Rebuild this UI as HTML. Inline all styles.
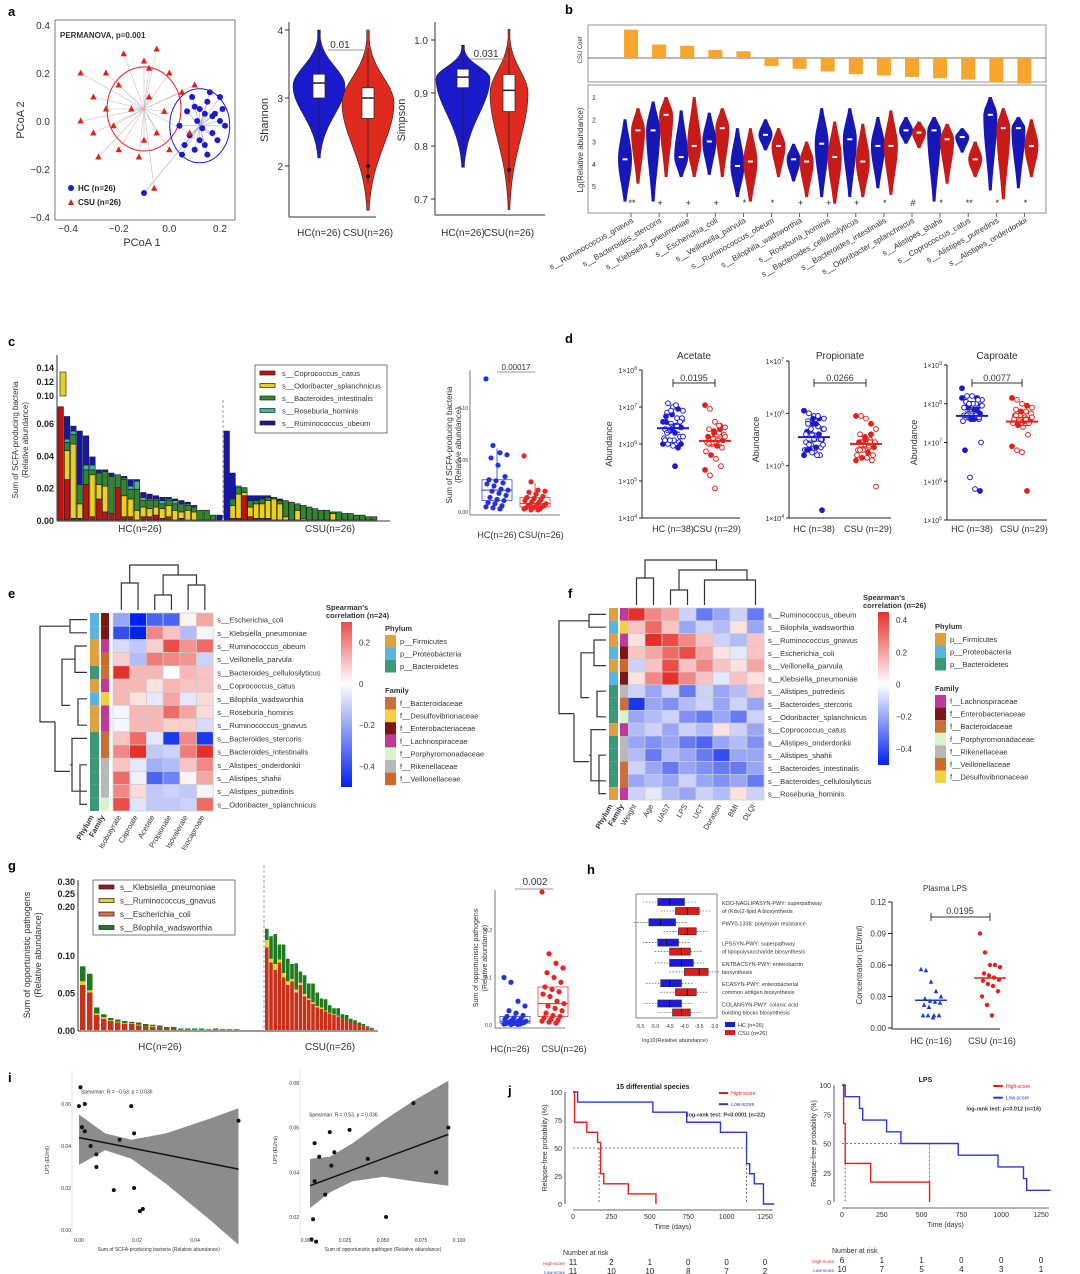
<!DOCTYPE html>
<html><head><meta charset="utf-8"><style>
html,body{margin:0;padding:0;background:#fff}
svg{display:block;font-family:"Liberation Sans",sans-serif}
</style></head><body>
<svg id="fig" width="1080" height="1274" viewBox="0 0 1080 1274" xmlns="http://www.w3.org/2000/svg"></svg>
<script>
// ---------------- DATA ----------------
const pcoaHC=[[0.12,0.05],[0.15,0.08],[0.18,0.03],[0.2,0.0],[0.17,-0.05],[0.14,-0.1],[0.1,-0.12],[0.08,-0.06],[0.11,0.0],[0.16,0.12],[0.2,0.1],[0.22,-0.02],[0.05,-0.14],[0.13,-0.03],[0.07,0.04],[0.19,-0.08],[0.09,0.1],[0.15,-0.14],[-0.1,-0.3],[0.04,-0.02],[0.17,0.02],[0.12,-0.08],[0.21,0.05],[0.1,0.06],[0.06,-0.1],[0.14,0.03]];
const pcoaCSU=[[-0.3,0.1],[-0.35,0.0],[-0.25,0.2],[-0.2,0.15],[-0.1,0.25],[-0.05,0.3],[-0.15,0.05],[-0.3,-0.05],[-0.2,-0.12],[-0.12,-0.15],[0.0,0.2],[0.05,0.12],[-0.08,0.1],[-0.25,0.05],[-0.05,-0.05],[-0.35,0.2],[0.1,0.15],[-0.02,0.04],[-0.18,0.28],[-0.28,-0.15],[0.0,-0.12],[0.08,-0.05],[-0.1,-0.08],[-0.22,-0.02],[-0.08,0.22],[-0.06,-0.28]];
// [median,q1,q3,min,max]
const shannonStats={hc:[3.22,3.0,3.35,2.12,4.0],csu:[3.0,2.7,3.15,1.35,4.0]};
const simpsonStats={hc:[0.93,0.91,0.945,0.76,0.99],csu:[0.905,0.865,0.935,0.68,1.02]};
const shannonOutliers=[2.0,1.85];
const simpsonOutliers=[0.755];
// panel b
const csuCoef=[2.1,1.0,0.9,0.6,0.5,-0.6,-0.8,-1.0,-1.2,-1.3,-1.4,-1.5,-1.6,-1.8,-1.9];
const bHCmed=[3.8,2.5,3.7,3.0,4.1,2.7,3.8,3.1,2.9,3.2,2.5,2.5,2.8,1.8,2.4];
const bCSUmed=[2.5,1.8,3.2,2.4,3.9,3.2,3.9,3.7,3.9,3.2,2.6,2.9,3.8,2.4,3.2];
const bHCrange=[[2.0,5.7],[1.2,5.7],[1.6,4.6],[1.7,4.5],[2.4,5.5],[2.0,3.4],[3.1,4.8],[1.5,5.5],[1.5,5.5],[1.9,5.1],[1.9,3.1],[1.9,5.7],[2.4,3.5],[1.0,5.2],[1.9,5.1]];
const bCSUrange=[[1.5,4.9],[1.0,4.6],[1.0,4.6],[1.5,4.6],[2.4,5.7],[2.4,4.6],[3.0,5.5],[2.1,5.8],[2.2,5.5],[1.6,5.4],[2.1,3.3],[2.2,4.9],[3.0,4.6],[1.5,5.6],[2.0,4.6]];
const bSig=["**","+","+","+","*","*","+","+","+","*","#","*","**","*","*"];
const bSpecies=["s__Ruminococcus_gnavus","s__Bacteroides_stercoris","s__Klebsiella_pneumoniae","s__Escherichia_coli","s__Veillonella_parvula","s__Ruminococcus_obeum","s__Bilophila_wadsworthia","s__Roseburia_hominis","s__Bacteroides_cellulosilyticus","s__Bacteroides_intestinalis","s__Odoribacter_splanchnicus","s__Alistipes_shahii","s__Coprococcus_catus","s__Alistipes_putredinis","s__Alistipes_onderdonkii"];
// panel c (x1000 relative abundance)
const cRed=[70,25,1,1,22,2,13,5,4,20,2,2,0,2,2,3,1,2,0,1,0,0,0,0,0,0, 0,1,1,15,2,1,1,1,0,0,0,0,0,0,0,0,0,0,0,0,0,0,0,0,0,0];
const cYel=[0,18,46,9,0,26,9,16,0,0,13,11,6,6,5,5,6,7,6,4,6,5,0,0,0,0, 0,8,15,2,6,9,9,11,13,10,2,0,6,1,0,0,0,0,4,0,0,0,0,0,0,0];
const cGrn=[0,5,6,12,9,3,7,9,23,8,10,6,13,4,5,4,3,3,4,5,3,3,6,6,3,0, 0,4,4,3,4,2,3,2,1,2,10,11,4,8,8,7,6,6,1,5,4,4,3,3,2,2];
const cTeal=[0,2,2,0,3,3,0,0,0,0,1,2,5,2,1,1,2,1,2,0,1,0,0,0,0,0, 0,0,1,0,0,0,0,0,0,0,0,0,0,0,0,0,0,0,0,0,0,0,0,0,0,0];
const cBlue=[0,14,3,33,18,5,2,1,2,0,1,4,1,3,3,2,2,1,1,2,1,1,0,0,0,3, 55,16,0,0,3,3,2,1,0,1,0,0,0,0,0,0,0,0,0,0,0,0,0,0,0,0];
const cBoxHC=[0.128,0.064,0.057,0.055,0.052,0.045,0.034,0.031,0.03,0.028,0.027,0.025,0.022,0.021,0.02,0.018,0.016,0.014,0.012,0.011,0.009,0.008,0.006,0.005,0.004,0.003];
const cBoxCSU=[0.054,0.029,0.021,0.02,0.019,0.017,0.015,0.014,0.013,0.012,0.011,0.01,0.009,0.008,0.007,0.007,0.006,0.006,0.005,0.005,0.004,0.004,0.003,0.003,0.002,0.002];
// panel d (log10 abundance)
const dAcetHC=[6.6,7.1,7.0,6.95,6.9,6.85,6.8,6.7,6.65,6.6,6.55,6.5,6.45,6.4,6.35,6.3,6.2,6.15,6.1,6.1,6.05,6.0,6.0,5.95,5.9,6.2,6.3,6.4,6.5,6.7,6.75,6.9,7.05,6.0,6.1,6.1,5.4,6.6];
const dAcetCSU=[7.05,6.95,6.6,6.5,6.45,6.4,6.35,6.3,6.25,6.2,6.15,6.1,6.1,6.05,6.0,5.95,5.9,5.8,5.7,5.6,5.4,5.3,5.15,4.8,6.4,6.2,6.0,6.3,6.5];
const dPropHC=[6.05,6.0,5.95,5.9,5.9,5.85,5.8,5.75,5.7,5.65,5.6,5.55,5.5,5.45,5.4,5.35,5.35,5.3,5.3,5.25,5.2,5.2,5.4,5.5,5.6,5.7,5.8,5.9,5.95,5.4,5.3,5.25,5.2,4.15,5.6,5.7,5.8,5.5];
const dPropCSU=[5.95,5.95,5.9,5.8,5.7,5.6,5.55,5.5,5.45,5.45,5.4,5.35,5.35,5.3,5.3,5.25,5.2,5.2,5.15,5.15,5.1,5.1,5.4,5.5,5.6,4.6,5.3,5.5,5.45];
const dCaprHC=[8.4,8.2,8.2,8.15,8.1,8.05,8.0,8.0,7.95,7.9,7.85,7.8,7.75,7.7,7.65,7.6,7.6,7.55,7.9,8.0,8.1,8.15,7.7,7.8,7.85,7.95,8.05,7.6,7.7,7.0,6.8,6.1,5.8,5.75,7.9,8.0,7.85,7.65];
const dCaprCSU=[8.15,8.1,8.0,7.95,7.9,7.85,7.8,7.8,7.75,7.7,7.7,7.65,7.6,7.6,7.55,7.55,7.5,7.5,7.45,7.4,7.2,6.9,6.8,6.75,5.75,7.65,7.7,7.8,7.6];
// panel e heatmap
const eCols=["Isobutyrate","Caproate","Acetate","Propionate","Isovalerate","Isocaproate"];
const eRows=["s__Escherichia_coli","s__Klebsiella_pneumoniae","s__Ruminococcus_obeum","s__Veillonella_parvula","s__Bacteroides_cellulosilyticus","s__Coprococcus_catus","s__Bilophila_wadsworthia","s__Roseburia_hominis","s__Ruminococcus_gnavus","s__Bacteroides_stercoris","s__Bacteroides_intestinalis","s__Alistipes_onderdonkii","s__Alistipes_shahii","s__Alistipes_putredinis","s__Odoribacter_splanchnicus"];
const eVals=[[-0.2,-0.5,-0.35,-0.35,0.02,0.15],[-0.4,-0.5,0.2,0.1,-0.15,-0.02],[-0.08,-0.12,0.08,0.3,0.18,0.25],[0.08,-0.15,0.22,0.2,0.18,-0.1],[0.35,0.12,0.12,0,0.12,0.1],[0.12,0.12,0.05,0.12,0.1,0.1],[0.12,0.05,-0.05,0.15,-0.05,0.06],[-0.02,0.12,0.12,0.25,0.15,0.06],[-0.02,0.12,0.12,0.08,0.08,-0.08],[0.1,0.25,-0.05,-0.45,0.2,-0.45],[0.2,0.35,-0.12,-0.1,0.22,0.35],[0.1,-0.05,-0.18,-0.15,0.1,0.2],[0.25,-0.03,-0.35,-0.28,0.02,0.15],[0.2,0.06,-0.12,-0.1,-0.12,-0.02],[0.3,-0.06,-0.12,-0.12,-0.1,0.25]];
const ePhy=["P","P","F","F","B","F","P","F","F","B","B","B","B","B","B"];
const eFam=["En","En","La","Ve","Ba","La","De","La","La","Ba","Ba","Ri","Ri","Ri","Po"];
// panel f heatmap
const fCols=["Weight","Age","UAS7","LPS","UCT","Duration","BMI","DLQI"];
const fRows=["s__Ruminococcus_obeum","s__Bilophila_wadsworthia","s__Ruminococcus_gnavus","s__Escherichia_coli","s__Veillonella_parvula","s__Klebsiella_pneumoniae","s__Alistipes_putredinis","s__Bacteroides_stercoris","s__Odoribacter_splanchnicus","s__Coprococcus_catus","s__Alistipes_onderdonkii","s__Alistipes_shahii","s__Bacteroides_intestinalis","s__Bacteroides_cellulosilyticus","s__Roseburia_hominis"];
const fVals=[[0.4,0.2,0.15,-0.1,-0.3,-0.2,-0.1,-0.3],[0.1,0.25,0.1,-0.2,-0.1,-0.15,0.05,-0.2],[0.05,0.35,0.3,0.2,0.1,-0.1,-0.15,0.1],[0.1,0.15,0.25,0.3,0.15,0.05,-0.05,0.1],[-0.1,0.1,0.3,0.1,0.2,0.1,0.05,0.15],[0.05,0.2,0.35,0.2,0.1,-0.05,0.1,0.05],[-0.1,-0.2,-0.1,-0.3,-0.1,-0.2,-0.15,0.1],[-0.45,-0.2,-0.25,-0.15,-0.1,-0.2,-0.1,-0.2],[-0.2,-0.15,-0.1,-0.25,-0.3,-0.2,-0.3,-0.1],[-0.15,-0.1,-0.2,-0.1,-0.15,0.05,-0.1,-0.2],[-0.2,-0.25,-0.2,-0.3,-0.35,-0.2,-0.15,-0.25],[-0.15,-0.3,-0.15,-0.2,-0.3,-0.4,-0.2,-0.2],[-0.1,-0.2,-0.3,-0.2,-0.25,-0.3,-0.3,-0.2],[-0.2,-0.15,-0.2,-0.1,-0.2,-0.25,-0.2,-0.3],[-0.1,-0.05,-0.15,-0.2,-0.1,-0.15,0.05,-0.1]];
const fPhy=["F","P","F","P","F","P","B","B","B","F","B","B","B","B","F"];
const fFam=["La","De","La","En","Ve","En","Ri","Ba","Po","La","Ri","Ri","Ba","Ba","La"];
// panel g (x1000)
const gRed=[60,50,20,15,12,10,8,8,6,5,4,3,2,2,1,1,1,1,1,1,0,0,0,0,0,0, 110,90,80,90,70,60,65,50,60,45,40,35,30,28,25,22,20,18,15,12,10,8,6,5,3,2];
const gYel=[5,3,2,2,1,1,1,1,1,0,1,0,0,0,0,0,0,0,0,0,0,0,0,0,0,0, 10,5,8,4,6,5,3,4,3,3,2,2,2,2,1,1,1,1,0,0,0,0,0,0,0,0];
const gGrn=[20,22,8,4,3,3,3,2,3,3,2,3,2,2,1,1,1,1,0,1,1,1,1,0,0,0, 15,30,40,20,38,30,20,35,15,25,20,25,18,12,15,10,8,10,6,8,5,5,4,3,2,1];
const gBoxHC=[0.10,0.09,0.05,0.04,0.03,0.025,0.02,0.018,0.015,0.013,0.012,0.01,0.009,0.008,0.007,0.006,0.005,0.005,0.004,0.004,0.003,0.003,0.002,0.002,0.001,0.001];
const gBoxCSU=[0.28,0.15,0.13,0.12,0.11,0.1,0.09,0.08,0.075,0.07,0.065,0.06,0.05,0.045,0.04,0.035,0.03,0.025,0.02,0.018,0.015,0.012,0.01,0.008,0.006,0.004];
// panel h
const hPath=["KDO-NAGLIPASYN-PWY: superpathway of (Kdo)2-lipid A biosynthesis","PWY0-1338: polymyxin resistance","LPSSYN-PWY: superpathway of lipopolysaccharide biosynthesis","ENTBACSYN-PWY: enterobactin biosynthesis","ECASYN-PWY: enterobacterial common antigen biosynthesis","COLANSYN-PWY: colanic acid building blocks biosynthesis"];
const hHC=[[-4.9,-4.5,-4.0],[-5.2,-4.8,-4.3],[-4.9,-4.6,-4.2],[-4.5,-4.1,-3.7],[-4.8,-4.5,-4.1],[-4.9,-4.5,-4.1]];
const hCSU=[[-4.3,-3.9,-3.5],[-4.2,-3.9,-3.6],[-4.5,-4.1,-3.8],[-4.0,-3.5,-3.2],[-4.3,-3.9,-3.6],[-4.4,-4.1,-3.8]];
const hLpsHC=[0.056,0.055,0.044,0.035,0.03,0.028,0.026,0.025,0.024,0.022,0.02,0.012,0.012,0.012,0.012,0.01];
const hLpsCSU=[0.09,0.072,0.06,0.06,0.058,0.052,0.05,0.048,0.046,0.045,0.042,0.04,0.035,0.03,0.022,0.012];
// panel i
const iX1=[0.0005,0.000,0.002,0.001,0.002,0.004,0.006,0.006,0.014,0.018,0.019,0.012,0.019,0.021,0.022,0.055];
const iY1=[0.068,0.059,0.06,0.049,0.047,0.04,0.036,0.03,0.043,0.059,0.046,0.019,0.02,0.009,0.01,0.052];
const iX2=[0.003,0.006,0.004,0.005,0.005,0.008,0.012,0.016,0.015,0.018,0.028,0.040,0.052,0.070,0.085,0.093];
const iY2=[0.01,0.009,0.019,0.036,0.053,0.047,0.03,0.043,0.058,0.049,0.059,0.046,0.02,0.071,0.04,0.06];
// panel j
const j1HiT=[0,10,90,160,180,200,360,540], j1HiS=[100,73,64,55,27,18,9,0];
const j1LoT=[0,30,520,740,960,1130,1150,1180,1240,1310], j1LoS=[100,91,82,73,64,36,27,18,0,0];
const j2HiT=[0,10,20,180,550], j2HiS=[100,67,33,17,0];
const j2LoT=[0,20,110,130,280,370,730,980,1140,1160,1310], j2LoS=[100,90,80,70,60,50,40,30,20,10,10];

// ---------------- HELPERS ----------------
const S=document.getElementById('fig');const NS='http://www.w3.org/2000/svg';
function mk(tag,at,name,par){const e=document.createElementNS(NS,tag);for(const k in at)e.setAttribute(k,at[k]);


(par||S).appendChild(e);return e;}
function tx(x,y,s,fs,name,o){o=o||{};const e=mk('text',Object.assign({x:x,y:y,'font-size':fs,fill:o.fill||'#333'},o.at||{}),name);if(o.anchor)e.setAttribute('text-anchor',o.anchor);if(o.bold)e.setAttribute('font-weight','bold');if(o.rot!==undefined)e.setAttribute('transform','rotate('+o.rot+' '+x+' '+y+')');e.textContent=s;return e;}
function ln(x1,y1,x2,y2,st,w,name,dash){const e=mk('line',{x1:x1,y1:y1,x2:x2,y2:y2,stroke:st,'stroke-width':w||1},name);if(dash)e.setAttribute('stroke-dasharray',dash);return e;}
function rc(x,y,w,h,f,name,st){const e=mk('rect',{x:x,y:y,width:Math.max(0,w),height:Math.max(0,h),fill:f},name);if(st){e.setAttribute('stroke',st);e.setAttribute('stroke-width',0.7);}return e;}
function ci(x,y,r,f,name,st){const e=mk('circle',{cx:x,cy:y,r:r,fill:f},name);if(st){e.setAttribute('stroke',st);}return e;}
function lin(d0,d1,r0,r1){return v=>r0+(v-d0)/(d1-d0)*(r1-r0);}
const BL='#1a1ad6',RD='#e3201b';
function letter(x,y,s){tx(x,y,s,13,'panel-label-'+s,{bold:true,fill:'#000'});}
function heat(v){
 let r,g,b; if(v>=0){const t=Math.min(1,v/0.35);r=255-t*(255-232);g=255-t*(255-48);b=255-t*(255-42);}else{const t=Math.min(1,-v/0.5);r=255-t*255;g=255-t*(255-34);b=255-t*(255-238);} return 'rgb('+(r|0)+','+(g|0)+','+(b|0)+')';}

// ---------------- PANEL A ----------------
letter(8,16,'a');
{const X=lin(-0.4,0.2,68,220),Y=lin(0.4,-0.4,25,217);
rc(55,20,180,200,'none','pcoa-frame','#444');
[-0.4,-0.2,0,0.2].forEach(v=>{tx(X(v),232,(v<0?'\u2212':'')+Math.abs(v).toFixed(1),10,'pcoa-x-tick',{anchor:'middle'});});
[0.4,0.2,0,-0.2,-0.4].forEach(v=>{tx(50,Y(v)+4,(v<0?'\u2212':'')+Math.abs(v).toFixed(1),10,'pcoa-y-tick',{anchor:'end'});});
tx(142,246,'PCoA 1',11,'pcoa-x-title',{anchor:'middle'});tx(24,120,'PCoA 2',11,'pcoa-y-title',{anchor:'middle',rot:-90});
tx(60,38,'PERMANOVA, p=0.001',8,'permanova-label',{bold:true});
const cH=[0.12,-0.02],cC=[-0.1,0.05];
pcoaHC.forEach(p=>ln(X(p[0]),Y(p[1]),X(cH[0]),Y(cH[1]),'#aab','0.6','hc-spider-line'));
pcoaCSU.forEach(p=>ln(X(p[0]),Y(p[1]),X(cC[0]),Y(cC[1]),'#cbb','0.6','csu-spider-line'));
mk('ellipse',{cx:X(cC[0]),cy:Y(cC[1]),rx:37,ry:42,fill:'none',stroke:RD,'stroke-width':1},'csu-ellipse');
mk('ellipse',{cx:X(cH[0]),cy:Y(cH[1]),rx:30,ry:37,fill:'none',stroke:BL,'stroke-width':1},'hc-ellipse');
pcoaHC.forEach(p=>ci(X(p[0]),Y(p[1]),3,BL,'hc-point'));
pcoaCSU.forEach(p=>{const x=X(p[0]),y=Y(p[1]);mk('polygon',{points:`${x},${y-3.5} ${x-3.2},${y+2.5} ${x+3.2},${y+2.5}`,fill:RD},'csu-point');});
ci(71,188,3,BL,'legend-hc-marker');tx(78,191,'HC (n=26)',8,'legend-hc',{bold:true,fill:'#222'});
mk('polygon',{points:'71,199 68,205 74,205',fill:RD},'legend-csu-marker');tx(78,205,'CSU (n=26)',8,'legend-csu',{bold:true,fill:'#222'});
}
function violin(cx,Y,st,col,w,name){const [med,q1,q3,lo,hi]=st;const n=40;let pts=[],pts2=[];
 const c=(q1+q3)/2;
 for(let i=0;i<=n;i++){const v=lo+(hi-lo)*i/n;const t=(v-c)/((v>c)?(hi-c):(c-lo));const ww=w*Math.max(0.05,Math.exp(-3.2*t*t*(v>c?1.3:1)));pts.push([cx-ww,Y(v)]);pts2.unshift([cx+ww,Y(v)]);}
 mk('polygon',{points:pts.concat(pts2).map(p=>p.join(',')).join(' '),fill:col,stroke:'#222','stroke-width':0.6},name+'-violin');
 ln(cx,Y(lo+(hi-lo)*0.15),cx,Y(hi-(hi-lo)*0.1),'#222',0.8,name+'-whisker');
 rc(cx-6,Y(q3),12,Y(q1)-Y(q3),'#fff',name+'-box','#222');ln(cx-6,Y(med),cx+6,Y(med),'#222',1.5,name+'-median');}
{const Y=lin(3,2,98,166);ln(289,22,289,217,'#333',1,'shannon-y-axis');ln(289,217,376,217,'#333',1,'shannon-x-axis');
[4,3,2].forEach(v=>{ln(285,Y(v),289,Y(v),'#333',1,'shannon-tick');tx(283,Y(v)+4,String(v),10,'shannon-tick-label',{anchor:'end'});});
tx(268,120,'Shannon',11,'shannon-y-title',{anchor:'middle',rot:-90});
violin(319,Y,shannonStats.hc,'#1a1acc',26,'shannon-hc');violin(368,Y,shannonStats.csu,'#e02a1e',26,'shannon-csu');
shannonOutliers.forEach(v=>ci(368,Y(v),2,'#111','shannon-outlier'));
ln(328,50,368,50,'#777',0.8,'shannon-bracket');tx(340,48,'0.01',10,'shannon-pvalue',{anchor:'middle'});
tx(319,236,'HC(n=26)',10,'shannon-x-hc',{anchor:'middle'});tx(368,236,'CSU(n=26)',10,'shannon-x-csu',{anchor:'middle'});}
{const Y=lin(0.9,0.8,93,146);ln(435,22,435,215,'#333',1,'simpson-y-axis');ln(435,215,545,215,'#333',1,'simpson-x-axis');
[1.0,0.9,0.8,0.7].forEach(v=>{ln(431,Y(v),435,Y(v),'#333',1,'simpson-tick');tx(428,Y(v)+4,v.toFixed(1),10,'simpson-tick-label',{anchor:'end'});});
tx(405,120,'Simpson',11,'simpson-y-title',{anchor:'middle',rot:-90});
violin(463,Y,simpsonStats.hc,'#1a1acc',27,'simpson-hc');violin(509,Y,simpsonStats.csu,'#e02a1e',19,'simpson-csu');
simpsonOutliers.forEach(v=>ci(509,Y(v),2,'#111','simpson-outlier'));
ln(470,59,509,59,'#777',0.8,'simpson-bracket');tx(486,57,'0.031',10,'simpson-pvalue',{anchor:'middle'});
tx(463,236,'HC(n=26)',10,'simpson-x-hc',{anchor:'middle'});tx(509,236,'CSU(n=26)',10,'simpson-x-csu',{anchor:'middle'});}

// ---------------- PANEL B ----------------
letter(565,14,'b');
{rc(588,25,458,57,'none','coef-frame','#666');const Yc=lin(0,2,58,31);ln(588,58,1046,58,'#444',0.8,'coef-zero-line');
tx(582,50,'CSU Coef',6,'coef-y-title',{anchor:'middle',rot:-90});
const Xc=i=>631+i*28.1;
csuCoef.forEach((v,i)=>{const y0=Yc(0),y1=Yc(v);rc(Xc(i)-7,Math.min(y0,y1),14,Math.abs(y1-y0),'#f7a52b','coef-bar');});
rc(588,85,458,128,'none','abund-frame','#666');
const Y=lin(1,5,97,186);[1,2,3,4,5].forEach(v=>{tx(594,Y(v)+3,String(v),7,'abund-tick',{anchor:'middle'});});
tx(583,150,'Lg(Relative abundance)',8,'abund-y-title',{anchor:'middle',rot:-90});
function sv(cx,med,r,col,name){const lo=r[0],hi=r[1];const n=16;let L=[],R=[];for(let k=0;k<=n;k++){const v=lo+(hi-lo)*k/n;const t=(v-med)/((v>med)?(hi-med):(med-lo));const w=7*Math.max(0.1,Math.exp(-1.6*t*t));L.push([cx-w,Y(v)]);R.unshift([cx+w,Y(v)]);}
 mk('polygon',{points:L.concat(R).map(p=>p.join(',')).join(' '),fill:col},name);rc(cx-2.5,Y(med)-1,5,2,'#fff',name+'-median');}
bSpecies.forEach((s,i)=>{const cx=Xc(i);sv(cx-6,bHCmed[i],bHCrange[i],'#1717b8','hc-violin-'+i);sv(cx+7,bCSUmed[i],bCSUrange[i],'#c81a16','csu-violin-'+i);
 tx(cx+1,206,bSig[i],9,'sig-mark',{anchor:'middle',fill:'#222'});ln(cx,213,cx,217,'#444',0.8,'species-tick');
 tx(cx+3,222,s,8,'species-label',{anchor:'end',rot:-30});});}

// ---------------- PANEL C ----------------
letter(8,346,'c');
{const Y=v=>520-v*1617;ln(57,355,57,521,'#333',1,'c-y-axis');ln(57,521,390,521,'#333',1,'c-x-axis');
[0,0.02,0.04,0.06].forEach(v=>{tx(54,Y(v/1)+4,v.toFixed(2),9,'c-y-tick',{anchor:'end',bold:true,fill:'#222'});});
[[0.14,367],[0.12,381],[0.10,395]].forEach(a=>tx(54,a[1]+4,a[0].toFixed(2),9,'c-y-tick-break',{anchor:'end',bold:true,fill:'#222'}));
ln(57,362,57,398,'#333',1,'c-y-axis-upper');rc(60,372,6,24,'#e6d21a','c-bar-break','#333');
tx(18,440,'Sum of SCFA-producing bacteria',8,'c-y-title',{anchor:'middle',rot:-90});tx(28,440,'(Relative abundance)',8,'c-y-title-2',{anchor:'middle',rot:-90});
const cols=[['#c01212',cRed],['#ead21c',cYel],['#2c8a2c',cGrn],['#3cb8a0',cTeal],['#1515b0',cBlue]];
for(let i=0;i<52;i++){const x=i<26?58+i*6.35:224+(i-26)*5.9;let acc=0;cols.forEach((c,k)=>{const v=c[1][i]/1000;if(v>0){rc(x,Y(acc+v),5.4,Y(acc)-Y(acc+v),c[0],'c-bar-seg','#222');}acc+=v;});}
ln(223,400,223,520,'#999',1,'c-group-divider','3,2');
tx(140,532,'HC(n=26)',10,'c-x-hc',{anchor:'middle'});tx(330,532,'CSU(n=26)',10,'c-x-csu',{anchor:'middle'});
rc(255,365,132,68,'#fff','c-legend','#444');
const ln5=['s__Coprococcus_catus','s__Odoribacter_splanchnicus','s__Bacteroides_intestinalis','s__Roseburia_hominis','s__Ruminococcus_obeum'];
ln5.forEach((s,k)=>{rc(260,371+k*12.5,15,4,cols[k][0],'c-legend-swatch','#222');tx(282,376+k*12.5,s,7.5,'c-legend-label');});
const Yb=lin(0,0.1,512,408);ln(470,370,470,515,'#555',0.8,'c-box-y-axis');ln(470,515,560,515,'#555',0.8,'c-box-x-axis');
[[0,'0.00'],[0.05,'0.05'],[0.1,'0.10']].forEach(a=>tx(468,Yb(a[0])+2,a[1],5,'c-box-tick',{anchor:'end'}));
tx(452,445,'Sum of SCFA-producing bacteria',8,'c-box-y-title',{anchor:'middle',rot:-90});tx(461,445,'(Relative abundance)',8,'c-box-y-title2',{anchor:'middle',rot:-90});
function bx(arr,cx,col,Yf,name){const s=arr.slice().sort((a,b)=>a-b);const q=p=>s[Math.floor(p*(s.length-1))];
 rc(cx-15,Yf(q(0.75)),30,Yf(q(0.25))-Yf(q(0.75)),'none',name+'-box',col);ln(cx-15,Yf(q(0.5)),cx+15,Yf(q(0.5)),col,1,name+'-median');
 ln(cx,Yf(q(0.75)),cx,Yf(Math.min(s[s.length-1],q(0.75)+1.5*(q(0.75)-q(0.25)))),col,0.8,name+'-whisker');
 arr.forEach((v,k)=>ci(cx+((k*7)%23-11),Yf(v),2.6,col,name+'-point'));}
bx(cBoxHC,497,'#2233dd',Yb,'c-hc');bx(cBoxCSU,535,'#ee2222',Yb,'c-csu');
ln(497,372,535,372,'#777',0.8,'c-box-bracket');tx(516,370,'0.00017',8,'c-box-pvalue',{anchor:'middle'});
tx(497,538,'HC(n=26)',9,'c-box-x-hc',{anchor:'middle'});tx(541,538,'CSU(n=26)',9,'c-box-x-csu',{anchor:'middle'});}

// ---------------- PANEL D ----------------
letter(565,343,'d');
function dot(ax,top,bot,lt,lb,hx,cx,hc,cs,title,p,name){const Y=lin(lt,lb,top,bot);ln(ax,top,ax,bot,'#222',1,name+'-y-axis');ln(ax,bot,cx+25,bot,'#222',1,name+'-x-axis');
 for(let e=lb;e<=lt;e++){ln(ax-3,Y(e),ax,Y(e),'#222',1,name+'-tick');const t=tx(ax-5,Y(e)+3,'1\u00d710',7,name+'-tick-label',{anchor:'end'});const sp=document.createElementNS(NS,'tspan');sp.setAttribute('font-size','5');sp.setAttribute('dy','-3');sp.textContent=String(e);t.appendChild(sp);}
 tx(ax-30,(top+bot)/2,'Abundance',9,name+'-y-title',{anchor:'middle',rot:-90});tx((hx+cx)/2,359,title,10,name+'-title',{anchor:'middle'});
 ln(hx,383,cx,383,'#333',1,name+'-bracket');ln(hx,379,hx,387,'#333',1,name+'-bracket-l');ln(cx,379,cx,387,'#333',1,name+'-bracket-r');tx((hx+cx)/2,381,p,9,name+'-pvalue',{anchor:'middle'});
 [[hc,hx,BL],[cs,cx,RD]].forEach(g=>{const arr=g[0];arr.forEach((v,k)=>{ci(g[1]+((k*5)%21-10),Y(v),2.4,k%3==0?g[2]:'#fff',name+'-point',g[2]);});
  const m=arr.reduce((a,b)=>a+b,0)/arr.length;ln(g[1]-16,Y(m),g[1]+16,Y(m),g[2],2,name+'-mean');ln(g[1]-7,Y(m)-4,g[1]+7,Y(m)-4,g[2],1,name+'-sem');ln(g[1]-7,Y(m)+4,g[1]+7,Y(m)+4,g[2],1,name+'-sem');});
 tx(hx,532,'HC (n=38)',9,name+'-x-hc',{anchor:'middle'});tx(cx+2,532,'CSU (n=29)',9,name+'-x-csu',{anchor:'middle'});}
dot(642,370,518,8,4,673,715,dAcetHC,dAcetCSU,'Acetate','0.0195','acetate');
dot(789,361,518,7,4,814,866,dPropHC,dPropCSU,'Propionate','0.0266','propionate');
dot(947,365,520,9,5,972,1022,dCaprHC,dCaprCSU,'Caproate','0.0077','caproate');

// ---------------- PANEL E/F HEATMAPS ----------------
const phyC={F:'#e0a040',P:'#5ab4e0',B:'#3a9a78'};const famC={Ba:'#c87038',De:'#f5d040',En:'#7a1818',La:'#c0389a',Po:'#d8f5c8',Ri:'#b8b8b8',Ve:'#d06828'};
function hm(x0,y0,cw,rh,vals,rows,cols,phy,fam,px,name){
 vals.forEach((r,i)=>r.forEach((v,j)=>rc(x0+j*cw,y0+i*rh,cw,rh,heat(v),name+'-cell','#ccc')));
 rows.forEach((s,i)=>{rc(px,y0+i*rh,9,rh,phyC[phy[i]],name+'-phylum-cell');rc(px+11,y0+i*rh,8,rh,famC[fam[i]],name+'-family-cell');tx(x0+cols.length*cw+4,y0+i*rh+rh/2+3,s,7.5,name+'-row-label');});
 cols.forEach((c,j)=>tx(x0+j*cw+cw/2,y0+rows.length*rh+6,c,7.5,name+'-col-label',{anchor:'end',rot:-60}));
 tx(px+4,y0+rows.length*rh+6,'Phylum',7.5,name+'-phylum-label',{anchor:'end',rot:-60,bold:true});tx(px+15,y0+rows.length*rh+6,'Family',7.5,name+'-family-label',{anchor:'end',rot:-60,bold:true});
 const H=rows.length*rh;mk('path',{d:`M${px-3},${y0+rh*0.5}H${px-20}V${y0+rh*1.5}H${px-3} M${px-20},${y0+rh}H${px-50}V${y0+H*0.55}H${px-35} M${px-3},${y0+rh*2.5}H${px-15}V${y0+rh*4.5}H${px-3} M${px-15},${y0+rh*3.5}H${px-28}V${y0+rh*7}H${px-20} M${px-3},${y0+rh*6.5}H${px-12}V${y0+rh*8.5}H${px-3} M${px-35},${y0+H*0.55}V${y0+rh*12}H${px-20} M${px-3},${y0+rh*9.5}H${px-18}V${y0+rh*13.5}H${px-3} M${px-18},${y0+rh*11.5}H${px-20} M${px-3},${y0+rh*11.5}H${px-10}V${y0+rh*14.5}H${px-3}`,fill:'none',stroke:'#333','stroke-width':1.2},name+'-row-dendrogram');
 const W=cols.length*cw;mk('path',{d:`M${x0+cw*0.5},${y0-3}V${y0-30}H${x0+cw*1.5}V${y0-3} M${x0+cw},${y0-30}V${y0-48}H${x0+W*0.65}V${y0-38} M${x0+cw*2.5},${y0-3}V${y0-18}H${x0+cw*3.5}V${y0-3} M${x0+cw*3},${y0-18}V${y0-38}H${x0+W-cw}V${y0-28} M${x0+cw*4.5},${y0-3}V${y0-28}H${x0+W-cw*0.5}V${y0-3}`,fill:'none',stroke:'#333','stroke-width':1.2},name+'-col-dendrogram');}
letter(8,598,'e');hm(113,613,16.7,13.2,eVals,eRows,eCols,ePhy,eFam,90,'e-heatmap');
letter(568,598,'f');hm(628,608,17,12.8,fVals,fRows,fCols,fPhy,fFam,609,'f-heatmap');
function cbar(x,y0,y1,title,ticks,lo,hi,name){const g=mk('linearGradient',{id:name+'g',x1:0,y1:0,x2:0,y2:1},name+'-gradient');
 [[0,heat(hi)],[hi/(hi-lo),heat(0)],[1,heat(lo)]].forEach(s=>mk('stop',{offset:s[0],'stop-color':s[1]},name+'-stop',g));
 rc(x,y0,11,y1-y0,'url(#'+name+'g)',name);tx(x-15,y0-12,'Spearman\'s',7.5,name+'-title',{bold:true});tx(x-15,y0-4,title,7.5,name+'-title2',{bold:true});
 ticks.forEach(t=>tx(x+18,y0+(hi-t)/(hi-lo)*(y1-y0)+3,t==0?'0':(t<0?'\u2212':'')+Math.abs(t),8,name+'-tick'));}
cbar(341,622,787,'correlation (n=24)',[0.2,0,-0.2,-0.4],-0.5,0.3,'e-colorbar');
cbar(878,612,765,'correlation (n=26)',[0.4,0.2,0,-0.2,-0.4],-0.5,0.45,'f-colorbar');
function leg(x,y,name,fams){tx(x,y,'Phylum',7.5,name+'-phylum-title',{bold:true});[['F','p__Firmicutes'],['P','p__Proteobacteria'],['B','p__Bacteroidetes']].forEach((a,k)=>{rc(x,y+4+k*12.5,11,12.5,phyC[a[0]],name+'-phylum-swatch');tx(x+15,y+13+k*12.5,a[1],7.5,name+'-phylum-label');});
 const fy=y+62;tx(x,fy,'Family',7.5,name+'-family-title',{bold:true});fams.forEach((a,k)=>{rc(x,fy+4+k*12.6,11,12.6,famC[a[0]],name+'-family-swatch');tx(x+15,fy+13+k*12.6,a[1],7.5,name+'-family-label');});}
leg(385,631,'e-legend',[['Ba','f__Bacteroidaceae'],['De','f__Desulfovibrionaceae'],['En','f__Enterobacteriaceae'],['La','f__Lachnospiraceae'],['Po','f__Porphyromonadaceae'],['Ri','f__Rikenellaceae'],['Ve','f__Veillonellaceae']]);
leg(935,629,'f-legend',[['La','f__Lachnospiraceae'],['En','f__Enterobacteriaceae'],['Ba','f__Bacteroidaceae'],['Po','f__Porphyromonadaceae'],['Ri','f__Rikenellaceae'],['Ve','f__Veillonellaceae'],['De','f__Desulfovibrionaceae']]);

// ---------------- PANEL G ----------------
letter(8,870,'g');
{const Y=v=>1030-v*750;ln(78,880,78,1031,'#333',1,'g-y-axis');ln(78,1031,378,1031,'#333',1,'g-x-axis');
[0,0.05,0.1].forEach(v=>tx(75,Y(v)+4,v.toFixed(2),9,'g-y-tick',{anchor:'end',bold:true,fill:'#222'}));
[[0.3,881],[0.25,893],[0.2,906]].forEach(a=>tx(75,a[1]+4,a[0].toFixed(2),9,'g-y-tick-break',{anchor:'end',bold:true,fill:'#222'}));
tx(30,955,'Sum of opportunistic pathogens',9,'g-y-title',{anchor:'middle',rot:-90});tx(41,955,'(Relative abundance)',9,'g-y-title2',{anchor:'middle',rot:-90});
const cols=[['#c8301a',gRed],['#e6d020',gYel],['#1f7a1f',gGrn]];
for(let i=0;i<52;i++){const x=i<26?80+i*7.0:265+(i-26)*4.2;let acc=0;cols.forEach(c=>{let v=c[1][i]/1000;if(acc+v>0.135)v=Math.max(0,0.135-acc);if(v>0)rc(x,Y(acc+v),i<26?5.5:3.6,Y(acc)-Y(acc+v),c[0],'g-bar-seg');acc+=v;});}
ln(264,865,264,1030,'#999',1,'g-group-divider','3,2');
tx(160,1050,'HC(n=26)',10,'g-x-hc',{anchor:'middle'});tx(330,1050,'CSU(n=26)',10,'g-x-csu',{anchor:'middle'});
rc(93,880,142,55,'#fff','g-legend','#444');['s__Klebsiella_pneumoniae','s__Ruminococcus_gnavus','s__Escherichia_coli','s__Bilophila_wadsworthia'].forEach((s,k)=>{rc(99,885+k*13.5,15,4,['#a01818','#e6d020','#e07050','#1f7a1f'][k],'g-legend-swatch','#222');tx(120,890+k*13.5,s,8,'g-legend-label');});
const Yb=lin(0,0.2,1025,930);ln(495,890,495,1028,'#555',0.8,'g-box-y-axis');ln(495,1028,565,1028,'#555',0.8,'g-box-x-axis');
[[0,'0.0'],[0.1,'0.1'],[0.2,'0.2']].forEach(a=>tx(492,Yb(a[0])+2,a[1],5,'g-box-tick',{anchor:'end'}));
tx(478,958,'Sum of opportunistic pathogens',7,'g-box-y-title',{anchor:'middle',rot:-90});tx(487,958,'(Relative abundance)',7,'g-box-y-title2',{anchor:'middle',rot:-90});
function bx(arr,cx,col,name){const s=arr.slice().sort((a,b)=>a-b);const q=p=>s[Math.floor(p*(s.length-1))];
 rc(cx-15,Yb(q(0.75)),30,Yb(q(0.25))-Yb(q(0.75)),'none',name+'-box',col);ln(cx-15,Yb(q(0.5)),cx+15,Yb(q(0.5)),col,1,name+'-median');
 arr.forEach((v,k)=>ci(cx+((k*7)%23-11),Yb(v),2.6,col,name+'-point'));}
bx(gBoxHC,515,'#2233dd','g-hc');bx(gBoxCSU,553,'#ee2222','g-csu');
ln(515,889,553,889,'#777',0.8,'g-box-bracket');tx(535,885,'0.002',10,'g-box-pvalue',{anchor:'middle'});
tx(510,1052,'HC(n=26)',9,'g-box-x-hc',{anchor:'middle'});tx(564,1052,'CSU(n=26)',9,'g-box-x-csu',{anchor:'middle'});}

// ---------------- PANEL H ----------------
letter(587,874,'h');
{const X=lin(-5.5,-3.0,640,714);rc(636,894,81,124,'#fff','h-box-frame','#555');
hPath.forEach((p,i)=>{const yb=902+i*20.3;[[hHC[i],'#1a1ae0',0],[hCSU[i],'#e01a1a',9]].forEach(g=>{const y=yb+g[2];ln(X(g[0][0]-0.5),y,X(g[0][2]+0.4),y,'#333',0.6,'h-whisker','1.5,1.5');rc(X(g[0][0]),y-3.5,X(g[0][2])-X(g[0][0]),7,g[1],'h-box','#333');ln(X(g[0][1]),y-3.5,X(g[0][1]),y+3.5,'#111',1,'h-median');});
 const parts=p.split(': ');tx(722,yb+3,parts[0]+': '+(parts[1].length>24?parts[1].slice(0,parts[1].indexOf(' ',12)):parts[1]),5.5,'h-pathway-label');
 if(parts[1].length>24)tx(722,yb+11,parts[1].slice(parts[1].indexOf(' ',12)+1),5.5,'h-pathway-label-2');});
[-5.5,-5,-4.5,-4,-3.5,-3].forEach(v=>tx(X(v),1028,v.toFixed(1),5,'h-x-tick',{anchor:'middle'}));tx(675,1042,'log10(Relative abundance)',5.5,'h-x-title',{anchor:'middle'});
rc(725,1022,10,5,'#1a1ae0','h-legend-hc');tx(738,1027,'HC  (n=26)',5.5,'h-legend-hc-label');rc(725,1030,10,5,'#e01a1a','h-legend-csu');tx(738,1035,'CSU  (n=26)',5.5,'h-legend-csu-label');
const Y=lin(0,0.12,1028,902);ln(892,902,892,1029,'#222',1,'lps-y-axis');ln(892,1029,1000,1029,'#222',1,'lps-x-axis');
[0,0.03,0.06,0.09,0.12].forEach(v=>{ln(888,Y(v),892,Y(v),'#222',1,'lps-tick');tx(886,Y(v)+3,v.toFixed(2),8,'lps-tick-label',{anchor:'end'});});
tx(862,965,'Concentration (EU/ml)',8,'lps-y-title',{anchor:'middle',rot:-90});tx(945,891,'Plasma LPS',8,'lps-title',{anchor:'middle'});
ln(931,917,990,917,'#333',1,'lps-bracket');ln(931,913,931,921,'#333',1,'lps-bracket-l');ln(990,913,990,921,'#333',1,'lps-bracket-r');tx(960,914,'0.0195',9,'lps-pvalue',{anchor:'middle'});
hLpsHC.forEach((v,k)=>{const x=931+((k*5)%21-10),y=Y(v);mk('polygon',{points:`${x},${y-2.5} ${x-2.3},${y+2} ${x+2.3},${y+2}`,fill:'#1a3ad0'},'lps-hc-point');});
hLpsCSU.forEach((v,k)=>ci(990+((k*5)%21-10),Y(v),2.2,RD,'lps-csu-point'));
const mh=hLpsHC.reduce((a,b)=>a+b)/16,mc=hLpsCSU.reduce((a,b)=>a+b)/16;ln(915,Y(mh),947,Y(mh),'#1a3ad0',1.5,'lps-hc-mean');ln(974,Y(mc),1006,Y(mc),RD,1.5,'lps-csu-mean');
tx(931,1044,'HC (n=16)',9,'lps-x-hc',{anchor:'middle'});tx(992,1044,'CSU (n=16)',9,'lps-x-csu',{anchor:'middle'});}

// ---------------- PANEL I ----------------
letter(8,1082,'i');
function sc(X,Y,xs,ys,fit,band,x0,x1,name,xt,yt,xl,stat){
 const up=band.map(b=>X(b[0])+','+Y(b[2])).join(' '),lo=band.slice().reverse().map(b=>X(b[0])+','+Y(b[1])).join(' ');
 mk('polygon',{points:up+' '+lo,fill:'#8c8c8c'},name+'-ci-band');ln(X(fit[0][0]),Y(fit[0][1]),X(fit[1][0]),Y(fit[1][1]),'#111',1.5,name+'-fit-line');
 xs.forEach((v,k)=>ci(X(v),Y(ys[k]),2,'#111',name+'-point'));
 xt.forEach(v=>tx(X(v[0]),1242,v[1],5,name+'-x-tick',{anchor:'middle'}));yt.forEach(v=>tx(X(0)-8,Y(v[0])+2,v[1],5,name+'-y-tick',{anchor:'end'}));
 tx(X(0)+(X(x1)-X(0))/2,1251,xl,5,name+'-x-title',{anchor:'middle'});tx(X(0)+2,Y(0.065),stat,5,name+'-stat');}
{const X=lin(0,0.02,79,137),Y=lin(0,0.06,1230,1104);ln(72,1070,72,1235,'#ccc',0.5,'i1-axis');
sc(X,Y,iX1,iY1,[[0,0.044],[0.055,0.029]],[[0,0.031,0.055],[0.009,0.038,0.046],[0.018,0.034,0.043],[0.03,0.022,0.046],[0.045,0.005,0.053],[0.055,-0.007,0.058]],0,0.055,'i1',[[0,'0.00'],[0.02,'0.02'],[0.04,'0.04']],[[0,'0.00'],[0.02,'0.02'],[0.04,'0.04'],[0.06,'0.06']],'Sum of SCFA-producing bacteria (Relative abundance)','Spearman: R = \u22120.53, p = 0.036');
tx(49,1160,'LPS (EU/ml)',5,'i1-y-title',{anchor:'middle',rot:-90});}
{const X=lin(0,0.1,307,459),Y=lin(0.02,0.08,1217,1083);ln(300,1070,300,1235,'#ccc',0.5,'i2-axis');
sc(X,Y,iX2,iY2,[[0.002,0.034],[0.093,0.057]],[[0.002,0.024,0.046],[0.015,0.031,0.047],[0.03,0.036,0.053],[0.05,0.038,0.063],[0.07,0.036,0.072],[0.093,0.034,0.081]],0,0.1,'i2',[[0,'0.000'],[0.025,'0.025'],[0.05,'0.050'],[0.075,'0.075'],[0.1,'0.100']],[[0.02,'0.02'],[0.04,'0.04'],[0.06,'0.06'],[0.08,'0.08']],'Sum of opportunistic pathogen (Relative abundance)','Spearman: R = 0.53, p = 0.036');
tx(277,1150,'LPS (EU/ml)',5,'i2-y-title',{anchor:'middle',rot:-90});}

// ---------------- PANEL J ----------------
letter(508,1095,'j');
function km(X,Y,name,hiT,hiS,loT,loS,title,logr,risk,med){
 ln(X(0)-8,Y(100),X(0)-8,Y(0),'#333',0.8,name+'-y-axis');ln(X(0),Y(0)+6,X(1300),Y(0)+6,'#333',0.8,name+'-x-axis');
 [0,25,50,75,100].forEach(v=>tx(X(0)-11,Y(v)+3,String(v),7,name+'-y-tick',{anchor:'end'}));
 [0,250,500,750,1000,1250].forEach(v=>{tx(X(v),Y(0)+15,String(v),7,name+'-x-tick',{anchor:'middle'});tx(X(v),Y(0)+88,String(v),7,name+'-risk-x-tick',{anchor:'middle'});});
 tx((X(0)+X(1300))/2,Y(0)+25,'Time (days)',7,name+'-x-title',{anchor:'middle'});tx((X(0)+X(1300))/2,Y(0)+98,'Time (days)',7,name+'-risk-x-title',{anchor:'middle'});
 tx(X(0)-26,(Y(0)+Y(100))/2,'Relapse-free probability (%)',7,name+'-y-title',{anchor:'middle',rot:-90});
 tx((X(0)+X(1300))/2-20,Y(100)-3,title,7,name+'-title',{anchor:'middle',bold:true,fill:'#222'});
 ln(X(0),Y(50),med[1],Y(50),'#555',0.8,name+'-median-line','2,2');ln(X(med[0]),Y(50),X(med[0]),Y(0),'#555',0.8,name+'-median-hi','2,2');
 [[hiT,hiS,RD,'high'],[loT,loS,'#2a3ad0','low']].forEach(g=>{let d='M'+X(g[0][0])+','+Y(g[1][0]);for(let k=1;k<g[0].length;k++){d+='H'+X(g[0][k])+'V'+Y(g[1][k]);}mk('path',{d:d,fill:'none',stroke:g[2],'stroke-width':1.4},name+'-'+g[3]+'-curve');});
 ln(X(950),Y(100)+1,X(1010),Y(100)+1,RD,2,name+'-legend-high');tx(X(1030),Y(100)+3,'High-score',5,name+'-legend-high-label',{fill:RD});
 ln(X(950),Y(90)+1,X(1010),Y(90)+1,'#2a3ad0',2,name+'-legend-low');tx(X(1030),Y(90)+3,'Low-score',5,name+'-legend-low-label',{fill:'#2a3ad0'});
 tx(X(1250),Y(78),logr,5.5,name+'-logrank',{anchor:'end',bold:true});
 tx(X(0)-10,Y(0)+51,'Number at risk',7,name+'-risk-title');tx(X(0)-8,Y(0)+61,'High-score',4.5,name+'-risk-high',{anchor:'end',fill:RD});tx(X(0)-8,Y(0)+70,'Low-score',4.5,name+'-risk-low',{anchor:'end',fill:'#2a3ad0'});
 risk[0].forEach((v,k)=>tx(X(k*250),Y(0)+61,String(v),8,name+'-risk-high-n',{anchor:'middle',fill:'#222'}));risk[1].forEach((v,k)=>tx(X(k*250),Y(0)+70,String(v),8,name+'-risk-low-n',{anchor:'middle',fill:'#222'}));
 rc(X(0),Y(0)+72,X(1300)-X(0),3,'#bbb',name+'-risk-bar');}
{const X=lin(0,1250,573,765),Y=lin(0,100,1204,1092);km(X,Y,'km1',j1HiT,j1HiS,j1LoT,j1LoS,'15 differential species','log-rank test: P<0.0001 (n=22)',[[11,2,1,0,0,0],[11,10,10,8,7,2]],[170,X(1130)]);ln(X(1130),Y(50),X(1130),Y(0),'#555',0.8,'km1-median-lo','2,2');}
{const X=lin(0,1250,842,1041),Y=lin(0,100,1202,1085);km(X,Y,'km2',j2HiT,j2HiS,j2LoT,j2LoS,'LPS','log-rank test: p=0.012 (n=16)',[[6,1,1,0,0,0],[10,7,5,4,3,1]],[20,X(550)]);ln(X(550),Y(50),X(550),Y(0),'#555',0.8,'km2-median-lo','2,2');}
</script>
</body></html>
